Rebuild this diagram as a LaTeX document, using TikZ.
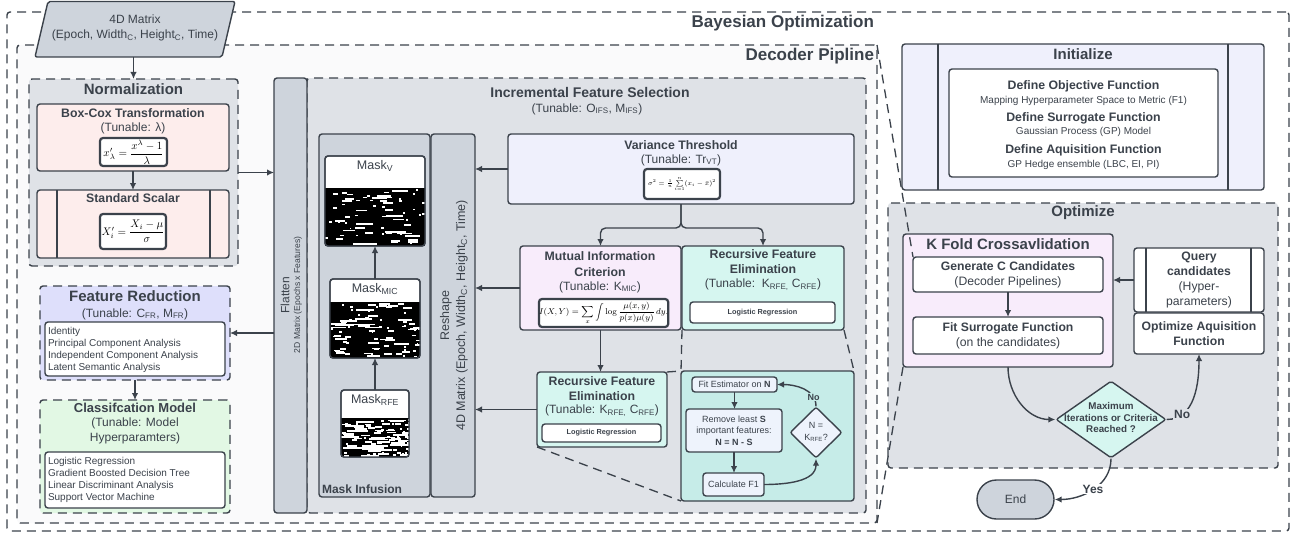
\RequirePackage{fix-cm}
\documentclass[tikz,border=0pt]{standalone}
\usepackage{amsmath}
\usepackage[no-math]{fontspec}
\setmainfont{Liberation Sans}
\usetikzlibrary{arrows.meta,shapes.geometric,calc}
\definecolor{lc}{HTML}{3B424B}
\definecolor{tc}{HTML}{3B424B}
\definecolor{grp}{HTML}{DFE2E7}
\definecolor{col}{HTML}{CED4DC}
\definecolor{pinkf}{HTML}{FDEDEC}
\definecolor{lavf}{HTML}{EFF0FC}
\definecolor{frf}{HTML}{DEDFFB}
\definecolor{grnf}{HTML}{E2F8E4}
\definecolor{micf}{HTML}{F8ECFB}
\definecolor{mintf}{HTML}{D6F6F0}
\definecolor{tealf}{HTML}{C6ECE8}
\definecolor{ltf}{HTML}{EEF3FC}
\definecolor{decf}{HTML}{FAFAFB}
\newcommand{\fsz}[2]{\fontsize{#1}{#2}\selectfont}
\tikzset{
 base/.style={draw=lc,line width=1.4pt,rounded corners=3pt,inner sep=0pt,outer sep=0pt,text=tc,align=center},
 dgrp/.style={base,dash pattern=on 9pt off 6pt},
 arr/.style={draw=lc,line width=1.4pt,-{Latex[length=7pt,width=6.5pt]}},
 zl/.style={draw=lc,line width=1.3pt,dash pattern=on 9pt off 6pt},
 fbox/.style={base,line width=2.2pt,fill=white,text=black},
 txt/.style={text=tc,inner sep=0pt,outer sep=0pt,align=center},
 ttl/.style={txt,font=\fsz{15}{18}\bfseries},
 hd/.style={txt,font=\fsz{12.3}{15}\bfseries},
 tun/.style={txt,font=\fsz{12}{15}},
}
\newcommand{\bx}[7]{\node[#1,anchor=north west,minimum width={#5pt-#3pt},minimum height={#6pt-#4pt}] (#2) at (#3,#4) {#7};}
\newcommand{\noisefill}[6]{%
\begin{scope}
\clip (#1,#2) rectangle (#3,#4);
\fill[black] (#1,#2) rectangle (#3,#4);
\pgfmathsetseed{#6}%
\foreach \k in {1,...,#5}{%
\pgfmathsetmacro{\px}{#1+rnd*(#3-#1)}%
\pgfmathsetmacro{\py}{#2+1+rnd*(#4-#2-3)}%
\pgfmathsetmacro{\pw}{1.5+rnd*rnd*24}%
\fill[white] (\px,\py) rectangle ++(\pw,1.8);}%
\end{scope}}
\begin{document}
\begin{tikzpicture}[x=1pt,y=-1pt]
\useasboundingbox (0,0) rectangle (1298,535);
% ---------- outer frames
\bx{dgrp}{bo}{7}{12}{1289}{531}{}
\node[txt,font=\fsz{17}{20}\bfseries,anchor=east] (tbo) at (874,23) {Bayesian Optimization};
\bx{dgrp,fill=decf}{dec}{17}{45}{877}{523}{}
\node[txt,font=\fsz{17}{20}\bfseries,anchor=east] (tdec) at (874,56) {Decoder Pipline};
% ---------- 4D matrix
\filldraw[fill=col,draw=lc,line width=1.4pt,rounded corners=2pt] (48,1.5) -- (235,1.5) -- (222,57) -- (35,57) -- cycle;
\node[txt,font=\fsz{12}{15}] (m4d) at (135,28) {4D Matrix\\(Epoch, Width\textsubscript{C}, Height\textsubscript{C}, Time)};
\coordinate (m4db) at (133.5,57);
% ---------- Normalization
\bx{dgrp,fill=grp}{norm}{29}{79}{238}{266}{}
\node[ttl] (tnorm) at (133.5,89) {Normalization};
\bx{base,fill=pinkf}{bc}{37}{104}{229}{171}{}
\node[hd] (tbc) at (133,113) {Box-Cox Transformation};
\node[tun] (ubc) at (133,128) {(Tunable: λ)};
\bx{fbox,font=\fsz{11}{13}}{fbc}{100}{138}{167}{166}{$x'_\lambda=\dfrac{x^\lambda-1}{\lambda}$}
\bx{base,fill=pinkf}{ss}{37}{190}{229}{258}{}
\draw[lc,line width=1.4pt] ([xshift=20pt]ss.north west) -- ([xshift=20pt]ss.south west);
\draw[lc,line width=1.4pt] ([xshift=-19pt]ss.north east) -- ([xshift=-19pt]ss.south east);
\node[hd] (tss) at (133,198) {Standard Scalar};
\bx{fbox,font=\fsz{11}{13}}{fss}{100}{214}{166}{249}{$X_i'=\dfrac{X_i-\mu}{\sigma}$}
\draw[arr] (m4db) -- (norm.north);
\draw[arr] (bc.south) -- (ss.north);
% ---------- Feature reduction
\bx{dgrp,fill=frf}{fr}{40}{286}{230}{380}{}
\node[ttl] (tfr) at (135,296) {Feature Reduction};
\node[tun] (ufr) at (135,314) {(Tunable: C\textsubscript{FR}, M\textsubscript{FR})};
\bx{base,fill=white}{frl}{45}{322}{225}{376}{}
\node[txt,anchor=west,align=left,font=\fsz{10}{12}] (frtxt) at (48,349.5) {Identity\\Principal Component Analysis\\Independent Component Analysis\\Latent Semantic Analysis};
% ---------- Classification
\bx{dgrp,fill=grnf}{cls}{40}{400}{230}{513}{}
\node[txt,font=\fsz{13}{16}\bfseries] (tcls) at (135,408) {Classifcation Model};
\node[txt,font=\fsz{12}{14.5}] (ucls) at (135,431) {(Tunable: Model\\Hyperparamters)};
\bx{base,fill=white}{clsl}{45}{452}{225}{508}{}
\node[txt,anchor=west,align=left,font=\fsz{10}{12}] (clstxt) at (48,479.5) {Logistic Regression\\Gradient Boosted Decision Tree\\Linear Discriminant Analysis\\Support Vector Machine};
\draw[arr] (fr.south) -- (cls.north);
% ---------- IFS + flatten
\bx{dgrp,fill=grp}{ifs}{307}{78}{866}{513}{}
\bx{base,fill=col}{flat}{274}{78}{307}{513}{}
\node[txt,rotate=90,font=\fsz{12}{14}] (tfl) at (285,295) {Flatten};
\node[txt,rotate=90,font=\fsz{8.6}{10}] (tfl2) at (298,295) {2D Matrix (Epochs x Features)};
\draw[arr] (norm.east) -- (norm.east -| flat.west);
\draw[arr] (fr.east -| flat.west) -- (fr.east);
\node[txt,font=\fsz{14}{17}\bfseries] (tifs) at (590,92) {Incremental Feature Selection};
\node[tun] (uifs) at (587,109) {(Tunable: O\textsubscript{IFS}, M\textsubscript{IFS})};
% ---------- Mask infusion
\bx{base,fill=col}{mi}{319}{134}{430}{497}{}
\node[txt,anchor=west,font=\fsz{12}{14}\bfseries] (tmi) at (322,489) {Mask Infusion};
\bx{base,fill=col}{resh}{431}{134}{475}{497}{}
\node[txt,rotate=90,font=\fsz{12.5}{14}] (tre1) at (446,315.5) {Reshape};
\node[txt,rotate=90,font=\fsz{12.5}{14}] (tre2) at (462,315.5) {4D Matrix (Epoch, Width\textsubscript{C}, Height\textsubscript{C}, Time)};
\bx{base,fill=white}{mv}{325}{156}{425}{246}{}
\noisefill{325}{188}{425}{246}{70}{11}
\draw[lc,line width=1.4pt,rounded corners=3pt] (mv.north west) rectangle (mv.south east);
\node[txt,font=\fsz{12.5}{14}] (tmv) at (375,166) {Mask\textsubscript{V}};
\bx{base,fill=white}{mmic}{330}{279}{420}{358}{}
\noisefill{330}{302}{420}{358}{90}{23}
\draw[lc,line width=1.4pt,rounded corners=3pt] (mmic.north west) rectangle (mmic.south east);
\node[txt,font=\fsz{12.5}{14}] (tmmic) at (375,289) {Mask\textsubscript{MIC}};
\bx{base,fill=white}{mrfe}{341}{390}{409}{457}{}
\noisefill{341}{418}{409}{457}{120}{37}
\draw[lc,line width=1.4pt,rounded corners=3pt] (mrfe.north west) rectangle (mrfe.south east);
\node[txt,font=\fsz{12.5}{14}] (tmrfe) at (375,400) {Mask\textsubscript{RFE}};
\draw[arr] (mmic.north) -- (mv.south);
\draw[arr] (mrfe.north) -- (mmic.south);
% ---------- Variance threshold
\bx{base,fill=lavf}{vt}{508}{134}{854}{204}{}
\node[hd] (tvt) at (681,145) {Variance Threshold};
\node[tun] (uvt) at (681,160) {(Tunable: Tr\textsubscript{VT})};
\bx{fbox,font=\fsz{6.4}{8}}{fvt}{644}{169}{720}{199}{$\sigma^2=\frac{1}{n}\sum\limits_{i=1}^{n}(x_i-\bar{x})^2$}
% ---------- MIC
\bx{base,fill=micf}{mic}{520}{246}{681}{330}{}
\node[hd,font=\fsz{12.3}{16}\bfseries] (tmic) at (600,264) {Mutual Information\\Criterion};
\node[tun] (umic) at (600,287) {(Tunable: K\textsubscript{MIC})};
\bx{fbox,font=\fsz{8.5}{10}}{fmic}{539}{299}{666}{327}{$\displaystyle I(X,Y)=\sum_{x}\int\log\frac{\mu(x,y)}{p(x)\mu(y)}\,dy.$}
% ---------- RFE upper
\bx{base,fill=mintf}{rfe1}{682}{246}{844}{330}{}
\node[hd,font=\fsz{12.3}{15}\bfseries] (trfe1) at (763,261.5) {Recursive Feature\\Elimination};
\node[tun] (urfe1) at (763,285) {(Tunable:\ \ K\textsubscript{RFE,} C\textsubscript{RFE})};
\bx{base,fill=white,font=\fsz{7.3}{9}\bfseries}{lr1}{690}{302}{835}{323}{Logistic Regression}
% ---------- RFE lower
\bx{base,fill=mintf}{rfe2}{537}{372}{667}{447}{}
\node[hd,font=\fsz{12.3}{15}\bfseries] (trfe2) at (602,388.5) {Recursive Feature\\Elimination};
\node[tun] (urfe2) at (602,411) {(Tunable: K\textsubscript{RFE,} C\textsubscript{RFE})};
\bx{base,fill=white,font=\fsz{7.3}{9}\bfseries}{lr2}{542}{424}{661}{442}{Logistic Regression}
% ---------- branch arrows
\coordinate (br) at (681,228);
\draw[arr,rounded corners=5pt] (vt.south) -- (br) -| (mic.north);
\draw[arr,rounded corners=5pt] (vt.south) -- (br) -| (rfe1.north);
\draw[arr] (mic.south) -- (mic.south |- rfe2.north);
\draw[arr] (vt.west) -- (vt.west -| resh.east);
\draw[arr] (mic.west) -- (mic.west -| resh.east);
\draw[arr] (rfe2.west) -- (rfe2.west -| resh.east);
% ---------- RFE detail
\bx{base,fill=tealf}{det}{681}{371}{854}{501}{}
\bx{base,fill=ltf,font=\fsz{9}{11}}{fit}{692}{377}{777}{392}{Fit Estimator on \textbf{N}}
\bx{base,fill=ltf,font=\fsz{9}{11.5}}{rem}{686}{409}{782}{452}{Remove least \textbf{S}\\important features:\\\textbf{N = N - S}}
\bx{base,fill=ltf,font=\fsz{9}{11}}{calc}{703}{473}{764}{496}{Calculate F1}
\node[diamond,draw=lc,line width=1.4pt,fill=ltf,rounded corners=2pt,minimum width=52pt,minimum height=51pt,inner sep=0pt] (dn) at (816,432.5) {};
\node[txt,font=\fsz{9}{11.5}] (tdn) at (816,432) {N =\\K\textsubscript{RFE}?};
\draw[arr] (fit.south) -- (fit.south |- rem.north);
\draw[arr] (rem.south) -- (rem.south |- calc.north);
\draw[arr] (calc.east) to[out=0,in=-90] (dn.south);
\draw[arr] (dn.north) to[out=90,in=0] node[pos=0.2,txt,fill=tealf,inner sep=1pt,font=\fsz{9}{11}\bfseries] (nolab) {No} (fit.east);
\draw[zl] (rfe1.south west) -- (det.north west);
\draw[zl] (rfe1.south east) -- (det.north east);
\draw[zl] (rfe2.north east) -- (det.north west);
\draw[zl] (rfe2.south west) -- (det.south west);
% ---------- Initialize
\bx{base,fill=lavf}{init}{902}{44}{1264}{190}{}
\draw[lc,line width=1.4pt] ([xshift=36pt]init.north west) -- ([xshift=36pt]init.south west);
\draw[lc,line width=1.4pt] ([xshift=-36pt]init.north east) -- ([xshift=-36pt]init.south east);
\node[ttl] (tinit) at (1083,54) {Initialize};
\bx{base,fill=white}{initin}{949}{69}{1218}{177}{}
\node[hd] (i1) at (1083.5,86) {Define Objective Function};
\node[txt,font=\fsz{10}{12}] (i2) at (1083.5,101) {Mapping Hyperparameter Space to Metric (F1)};
\node[hd] (i3) at (1083.5,118) {Define Surrogate Function};
\node[txt,font=\fsz{10}{12}] (i4) at (1083.5,132) {Gaussian Process (GP) Model};
\node[hd] (i5) at (1083.5,150) {Define Aquisition Function};
\node[txt,font=\fsz{10}{12}] (i6) at (1083.5,165) {GP Hedge ensemble (LBC, EI, PI)};
% ---------- Optimize
\bx{dgrp,fill=grp}{opt}{888}{203}{1278}{468}{}
\node[ttl] (topt) at (1083,213) {Optimize};
\bx{base,fill=micf}{kf}{903}{234}{1113}{367}{}
\node[ttl] (tkf) at (1008,244) {K Fold Crossavlidation};
\bx{base,fill=white,font=\fsz{12.2}{15}}{gen}{913}{257}{1103}{292}{{\bfseries Generate C Candidates}\\(Decoder Pipelines)}
\bx{base,fill=white,font=\fsz{12.2}{15}}{fsf}{913}{317}{1103}{354}{{\bfseries Fit Surrogate Function}\\(on the candidates)}
\draw[arr] (gen.south) -- (fsf.north);
\bx{base,fill=white,font=\fsz{12.2}{14.7}}{qry}{1134}{248}{1264}{312}{{\bfseries Query}\\{\bfseries candidates}\\(Hyper-\\parameters)}
\draw[lc,line width=1.4pt] ([xshift=12pt]qry.north west) -- ([xshift=12pt]qry.south west);
\draw[lc,line width=1.4pt] ([xshift=-13pt]qry.north east) -- ([xshift=-13pt]qry.south east);
\bx{base,fill=white,font=\fsz{12.2}{15}\bfseries}{oaq}{1134}{313}{1264}{354}{Optimize Aquisition\\Function}
\draw[arr] (qry.west) -- (qry.west -| kf.east);
\node[diamond,draw=lc,line width=1.4pt,fill=mintf,rounded corners=2pt,minimum width=110pt,minimum height=77pt,inner sep=0pt] (dmax) at (1111,419.5) {};
\node[txt,font=\fsz{9.8}{11.8}\bfseries] (tdmax) at (1111,417.5) {Maximum\\Iterations or Criteria\\Reached ?};
\draw[arr] (kf.south) to[out=-90,in=180] (dmax.west);
\draw[arr] (dmax.east) to[out=0,in=-90] node[pos=0.22,txt,fill=grp,inner sep=1pt,font=\fsz{12}{14}\bfseries] (nolab2) {No} (oaq.south);
\node[draw=lc,fill=col,line width=1.4pt,rounded corners=19.5pt,minimum width=77pt,minimum height=39pt,inner sep=0pt,text=tc,font=\fsz{12}{14}] (endn) at (1015.5,499.5) {End};
\draw[arr] (dmax.south) to[out=-90,in=0] node[pos=0.5,txt,fill=white,inner sep=1pt,font=\fsz{12}{14}\bfseries] (yeslab) {Yes} (endn.east);
% ---------- zoom lines decoder -> k fold
\draw[zl] (dec.north east) -- (gen.north west);
\draw[zl] (kf.south west) -- (dec.south east);
\end{tikzpicture}
\end{document}
